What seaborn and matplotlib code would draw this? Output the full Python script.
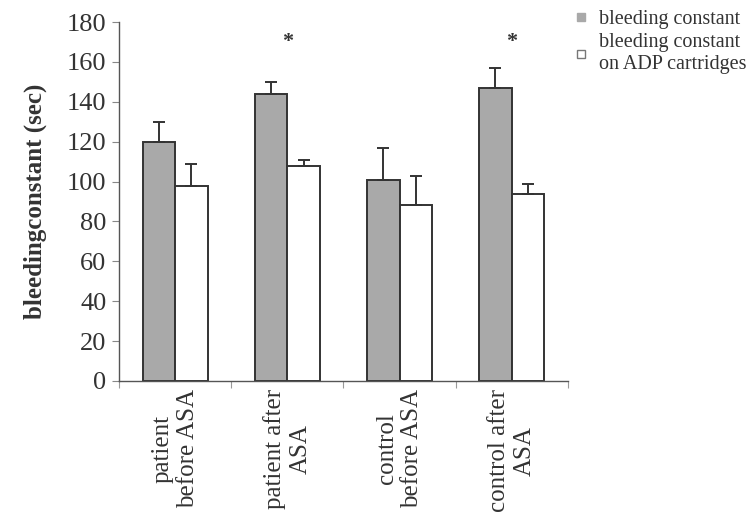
import pandas as pd
import matplotlib.pyplot as plt
import seaborn as sns
from matplotlib.lines import Line2D

# values
groups = ['patient\nbefore ASA', 'patient after\nASA', 'control\nbefore ASA', 'control after\nASA']
series = ['bleeding constant', 'bleeding constant\non ADP cartridges']
bleeding = [120, 144, 101, 147]
bleeding_err = [10, 6, 16, 10]
adp = [98, 108, 88, 94]
adp_err = [11, 3, 15, 5]
star_groups = [1, 3]
star_y = 170

df = pd.DataFrame({
    'group': groups * 2,
    'series': [series[0]] * 4 + [series[1]] * 4,
    'value': bleeding + adp,
    'err': bleeding_err + adp_err,
})

sns.set_style('white')
plt.rcParams['font.family'] = ['Liberation Serif', 'DejaVu Serif']

fig = plt.figure(figsize=(7.55, 5.18), dpi=100)
ax = fig.add_axes([0.1576, 0.2645, 0.5945, 0.693])

palette = {series[0]: '#a9a9a9', series[1]: '#ffffff'}
sns.barplot(data=df, x='group', y='value', hue='series', order=groups,
            hue_order=series, palette=palette, width=0.58, errorbar=None,
            edgecolor='#333333', linewidth=1.4, legend=False, ax=ax)

# one-sided error bars, placed on the bars seaborn drew
for patch, (_, row) in zip(ax.patches, df.iterrows()):
    xc = patch.get_x() + patch.get_width() / 2
    ax.errorbar(xc, row['value'], yerr=[[0], [row['err']]], fmt='none',
                ecolor='#333333', elinewidth=1.4, capsize=4.5, capthick=1.4)

for g in star_groups:
    ax.text(g, star_y, '*', ha='center', va='center', fontsize=16,
            fontweight='bold', color='#333333')

ax.set_ylim(0, 180)
ax.set_xlim(-0.5, 3.5)
ax.set_yticks(range(0, 181, 20))
ax.tick_params(axis='y', labelsize=19, length=5, width=0.8, color='#888888',
               direction='out', left=True, pad=4, labelcolor='#333333')
ax.set_xticks(range(4))
ax.set_xticklabels(groups, rotation=90, fontsize=18, color='#333333',
                   ha='center', va='top', multialignment='center')
ax.tick_params(axis='x', length=0, pad=6)
ax.set_xticks([-0.5, 0.5, 1.5, 2.5, 3.5], minor=True)
ax.tick_params(axis='x', which='minor', length=5, width=0.8, color='#999999',
               direction='out', bottom=True)

ax.set_xlabel('')
ax.set_ylabel('bleedingconstant (sec)', fontsize=18, fontweight='bold',
              color='#333333', labelpad=14)

for side in ['top', 'right']:
    ax.spines[side].set_visible(False)
for side in ['left', 'bottom']:
    ax.spines[side].set_color('#555555')
    ax.spines[side].set_linewidth(1.0)

handles = [
    Line2D([], [], marker='s', linestyle='none', markersize=6,
           markerfacecolor='#a9a9a9', markeredgecolor='#a9a9a9'),
    Line2D([], [], marker='s', linestyle='none', markersize=6,
           markerfacecolor='white', markeredgecolor='#777777'),
]
fig.legend(handles, series, loc='upper left', bbox_to_anchor=(0.735, 1.015),
           frameon=False, fontsize=14.5, handletextpad=0.5, labelspacing=0.2,
           handlelength=0.8, labelcolor='#333333')

fig.savefig('out.png', dpi=100, facecolor='white')
